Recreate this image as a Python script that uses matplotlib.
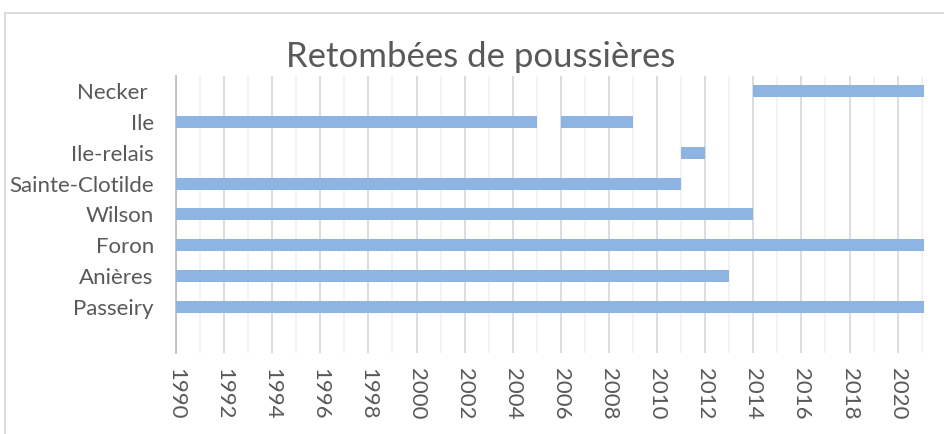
import matplotlib
matplotlib.use("Agg")
import matplotlib.pyplot as plt
from matplotlib.patches import Rectangle
from matplotlib.ticker import MultipleLocator

# Data
stations = ["Passeiry", "Anières", "Foron", "Wilson", "Sainte-Clotilde", "Ile-relais", "Ile", "Necker "]
# list of (start, end) periods per station
periods = {
    "Passeiry": [(1990, 2022)],
    "Anières": [(1990, 2013)],
    "Foron": [(1990, 2022)],
    "Wilson": [(1990, 2014)],
    "Sainte-Clotilde": [(1990, 2011)],
    "Ile-relais": [(2011, 2012)],
    "Ile": [(1990, 2005), (2006, 2009)],
    "Necker ": [(2014, 2022)],
}
x_ticks = list(range(1990, 2021, 2))
title = "Retombées de poussières"

plt.rcParams['font.family'] = ['Lato', 'DejaVu Sans']
text_color = "#595959"
bar_color = "#8DB4E2"

fig = plt.figure(figsize=(9.45, 4.34), dpi=100)
ax = fig.add_axes([176/945, 1-352.7/434, (923.6-176)/945, (352.7-76)/434])

for i, s in enumerate(stations):
    for (a, b) in periods[s]:
        ax.barh(i, b - a, left=a, height=0.39, color=bar_color, zorder=3)

ax.set_xlim(1990, 2021.08)
ax.set_ylim(-1.5, len(stations) - 0.5)
ax.set_yticks(range(len(stations)))
ax.set_yticklabels(stations)
ax.set_xticks(x_ticks)
ax.set_xticklabels([str(t) for t in x_ticks], rotation=-90)
ax.xaxis.set_minor_locator(MultipleLocator(1))
ax.grid(axis='x', which='major', color="#D9D9D9", linewidth=1.3, zorder=0)
ax.grid(axis='x', which='minor', color="#F2F2F2", linewidth=1.3, zorder=0)
ax.tick_params(axis='both', which='both', length=0, colors=text_color, labelsize=16)
ax.tick_params(axis='y', pad=16)
ax.tick_params(axis='x', pad=11)
for sp in ["top", "right", "bottom"]:
    ax.spines[sp].set_visible(False)
ax.spines["left"].set_color("#BFBFBF")
ax.spines["left"].set_linewidth(1.3)

fig.text(481/945, 1-57/434, title, ha='center', va='center', fontsize=25, color=text_color)

# chart-area border (cropped on right and bottom)
fig.patches.append(Rectangle((4.5/945, -0.1), 1.2, 1.1 - 13/434, transform=fig.transFigure,
                             fill=False, edgecolor="#D9D9D9", linewidth=1.3))

fig.savefig("out.png", dpi=100)
